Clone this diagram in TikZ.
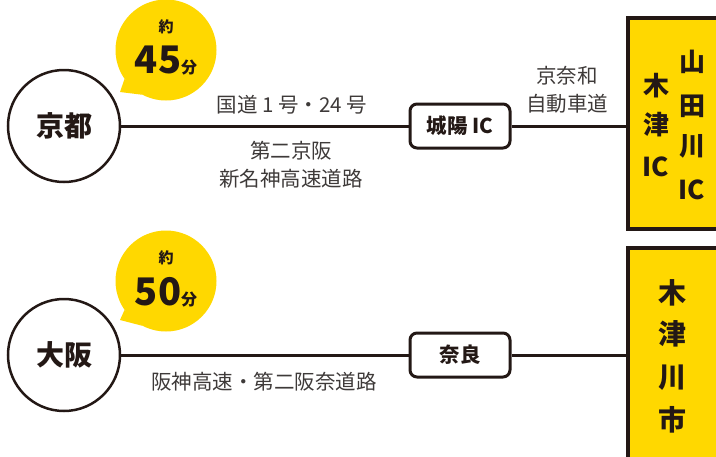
\documentclass[tikz,border=0pt]{standalone}
\usepackage{fontspec}
\setmainfont{Noto Sans CJK JP}
\usetikzlibrary{positioning,shapes}
\definecolor{ink}{HTML}{231815}
\definecolor{gold}{HTML}{FFD800}
\definecolor{notegray}{HTML}{3E3A39}
\tikzset{
  basic/.style  = {draw=ink, text=ink, font=\bfseries},
  city/.style   = {basic, circle, line width=2.5pt, minimum size=112pt, inner sep=0pt, font=\fontsize{28}{28}\selectfont\bfseries},
  ic/.style     = {basic, rectangle, rounded corners=7pt, line width=3pt, minimum width=100pt, minimum height=44pt, font=\fontsize{20.5}{20.5}\selectfont\bfseries},
  goal/.style   = {basic, rectangle, line width=4pt, fill=gold},
  bubble/.style = {circle, fill=gold, minimum size=101pt, inner sep=0pt},
  road/.style   = {draw=ink, line width=3pt},
  note/.style   = {text=notegray, font=\fontsize{20.5}{28}\selectfont, align=center},
  yaku/.style   = {text=ink, font=\fontsize{15}{15}\selectfont\bfseries},
  mins/.style   = {text=ink, font=\fontsize{38}{38}\selectfont\bfseries},
  vert/.style   = {text=ink, font=\fontsize{26}{26}\selectfont\bfseries}
}

\begin{document}
\begin{tikzpicture}[x=1pt, y=-1pt]
\useasboundingbox (0,0) rectangle (716,456);

% destinations
\node [goal, minimum width=110pt, minimum height=211pt] (kizuic) at (683,123.5) {};
\node [goal, minimum width=110pt, minimum height=230pt] (kizugawa) at (683,363) {};

% starting cities
\node [city] (kyoto) at (64,126) {京都};
\node [city] (osaka) at (64,355) {大阪};

% interchanges
\node [ic] (joyo) at (460,126) {城陽 IC};
\node [ic] (nara) at (460,355) {奈良};

% roads
\draw [road] (kyoto) -- (joyo);
\draw [road] (joyo.east) -- (joyo.east -| kizuic.west);
\draw [road] (osaka) -- (nara);
\draw [road] (nara.east) -- (nara.east -| kizugawa.west);

% time bubbles
\node [bubble] (bubbleA) at (166,50) {};
\fill [gold] (bubbleA.215) -- (120,92) -- (bubbleA.242) -- cycle;
\node [yaku] at ([yshift=23pt]bubbleA.center) {約};
\node [mins] at ([yshift=-11pt]bubbleA.center) {45\fontsize{16}{16}\selectfont 分};

\node [bubble] (bubbleB) at (166,281) {};
\fill [gold] (bubbleB.215) -- (120,320) -- (bubbleB.242) -- cycle;
\node [yaku] at ([yshift=23pt]bubbleB.center) {約};
\node [mins] at ([yshift=-11pt]bubbleB.center) {50\fontsize{16}{16}\selectfont 分};

% road names
\node [note] (r1) at (292,105) {国道 1 号・24 号};
\node [note] (r2) at (291,165) {第二京阪\\新名神高速道路};
\node [note] (r3) at (567,90) {京奈和\\自動車道};
\node [note] (r4) at (264,382) {阪神高速・第二阪奈道路};

% vertical names
\foreach \ch/\y in {木/86, 津/125, IC/167}
  \node [vert] at (656,\y) {\ch};
\foreach \ch/\y in {山/62, 田/106, 川/146, IC/190}
  \node [vert] at (692,\y) {\ch};
\foreach \ch/\y in {木/293, 津/334, 川/378, 市/420}
  \node [vert, font=\fontsize{28}{28}\selectfont\bfseries] at (672,\y) {\ch};

\end{tikzpicture}
\end{document}
